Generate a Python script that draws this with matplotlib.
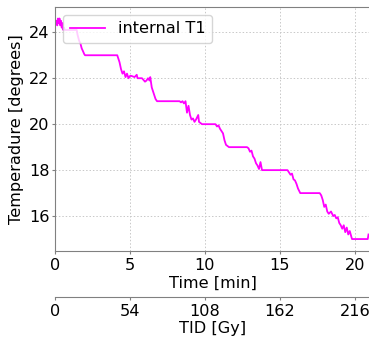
import matplotlib
matplotlib.use("Agg")
import matplotlib.pyplot as plt

# Time [min] and internal temperature T1 [degrees]
time_min = [0.1, 0.15, 0.2, 0.25, 0.3, 0.35, 0.4, 0.45, 0.5, 0.55, 0.6, 0.65,
            1.0, 1.45, 1.5, 1.6, 1.7, 1.78, 1.85, 1.95, 2.0,
            4.15, 4.2, 4.3, 4.4, 4.5, 4.6, 4.7, 4.8, 4.9, 5.0, 5.1, 5.3, 5.45, 5.5, 5.8, 6.0, 6.1, 6.2, 6.3, 6.35, 6.45, 6.55, 6.7, 6.8,
            8.3, 8.4, 8.5, 8.6, 8.7, 8.8, 8.9, 9.0, 9.1, 9.2, 9.3, 9.4, 9.55, 9.6, 9.7, 9.8,
            10.7, 10.8, 10.9, 11.0, 11.1, 11.2, 11.3, 11.4, 11.6,
            12.8, 12.9, 13.0, 13.1, 13.2, 13.3, 13.4, 13.5, 13.6, 13.7, 13.8,
            15.5, 15.6, 15.7, 15.8, 15.9, 16.0, 16.1, 16.2, 16.35,
            17.65, 17.75, 17.85, 17.95, 18.05, 18.15, 18.25, 18.4, 18.55, 18.65, 18.75, 18.85, 18.95,
            19.05, 19.15, 19.25, 19.35, 19.45, 19.55, 19.65, 19.8,
            20.85, 20.9]
temp_deg = [24.5, 24.3, 24.6, 24.4, 24.6, 24.3, 24.5, 24.2, 24.4, 24.1, 24.2, 24.1,
            24.1, 24.1, 23.9, 23.65, 23.5, 23.3, 23.2, 23.05, 23.0,
            23.0, 22.9, 22.7, 22.4, 22.2, 22.3, 22.05, 22.2, 22.0, 22.1, 22.1, 22.05, 22.15, 22.0, 22.0, 21.85, 21.9, 22.0, 21.9, 22.05, 21.6, 21.4, 21.1, 21.0,
            21.0, 20.95, 21.0, 20.9, 21.0, 20.5, 20.8, 20.4, 20.2, 20.25, 20.1, 20.2, 20.4, 20.1, 20.05, 20.0,
            20.0, 19.9, 19.95, 19.8, 19.7, 19.6, 19.3, 19.1, 19.0,
            19.0, 18.95, 18.8, 18.85, 18.6, 18.5, 18.3, 18.2, 18.05, 18.35, 18.0,
            18.0, 17.9, 17.8, 17.85, 17.6, 17.55, 17.4, 17.2, 17.0,
            17.0, 16.9, 16.7, 16.4, 16.5, 16.2, 16.1, 16.2, 16.0, 16.05, 15.9, 15.95, 15.7,
            15.6, 15.45, 15.6, 15.3, 15.5, 15.2, 15.35, 15.0,
            15.0, 15.2]

tid_ticks = [0, 54, 108, 162, 216]
gy_per_min = 10.8

fs = 11.6
plt.rcParams['font.family'] = ['DejaVu Sans']
plt.rcParams['font.size'] = fs

fig = plt.figure(figsize=(3.69, 3.38), dpi=100)
ax = fig.add_axes([55/369, 1 - 251/338, 315/369, 244/338])

ax.plot(time_min, temp_deg, color='#ff00ff', lw=1.3, label='internal T1')
ax.set_xlim(0, 21)
ax.set_ylim(14.48, 25.1)
ax.set_xticks([0, 5, 10, 15, 20])
ax.set_yticks([16, 18, 20, 22, 24])
ax.grid(True, linestyle=(0, (1.5, 2)), color='#c8c8c8', lw=0.7)
for s in ax.spines.values():
    s.set_color('#808080')
ax.tick_params(colors='#808080', labelcolor='black', labelsize=fs, length=2.3)
ax.tick_params(axis='y', pad=1.5)
ax.tick_params(axis='x', pad=2.5)
ax.set_xlabel('Time [min]', fontsize=fs, labelpad=2)
ax.set_ylabel('Temperadure [degrees]', fontsize=fs, labelpad=4)

sec = ax.secondary_xaxis(-46/244, functions=(lambda t: t * gy_per_min, lambda g: g / gy_per_min))
sec.set_xticks(tid_ticks)
sec.spines['bottom'].set_color('#808080')
sec.tick_params(colors='#808080', labelcolor='black', labelsize=fs, length=2.3, pad=2.5)
sec.set_xlabel('TID [Gy]', fontsize=fs, labelpad=1.5)

ax.legend(loc='upper left', fontsize=fs, handlelength=2.2)

fig.savefig('out.png', dpi=100)
